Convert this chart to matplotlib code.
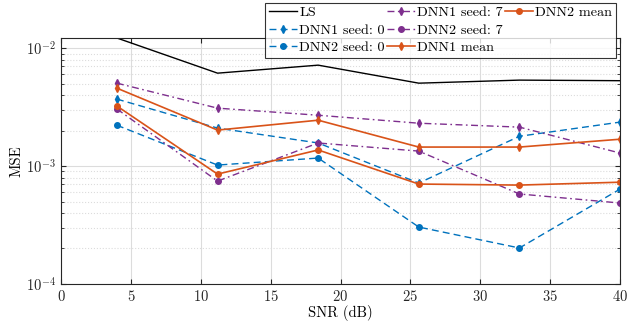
import numpy as np
import matplotlib.pyplot as plt
from matplotlib.lines import Line2D

plt.rcParams['font.family'] = ['cmr10', 'DejaVu Serif']
plt.rcParams['mathtext.fontset'] = 'cm'
plt.rcParams['axes.formatter.use_mathtext'] = True

snr = [4, 11.2, 18.4, 25.6, 32.8, 40]
ls_mse = [0.0122, 0.00614, 0.00718, 0.00505, 0.00536, 0.0053]
dnn1_s0 = [0.0037, 0.0021, 0.00157, 0.000718, 0.00179, 0.00236]
dnn2_s0 = [0.00222, 0.00102, 0.00117, 0.000304, 0.000202, 0.000638]
dnn1_s7 = [0.00505, 0.0031, 0.0027, 0.00231, 0.00214, 0.00129]
dnn2_s7 = [0.00305, 0.000746, 0.00157, 0.00134, 0.00058, 0.000486]
dnn1_mean = [0.00458, 0.00202, 0.00245, 0.00145, 0.00145, 0.00169]
dnn2_mean = [0.00323, 0.000855, 0.00137, 0.000704, 0.00069, 0.00073]

blue = '#0072BD'
orange = '#D95319'
purple = '#7E2F8E'
dash = (5, 3)
dashdot = (5, 2.5, 1.2, 2.5)

fig = plt.figure(figsize=(6.41, 3.24), dpi=100)
ax = fig.add_axes([0.0952, 0.1235, 0.8721, 0.7592])

ax.plot(snr, ls_mse, color='black', lw=1.0, label='LS')
ax.plot(snr, dnn1_s0, color=blue, ls=(0, dash), marker='d', ms=4, lw=1.0, label='DNN1 seed: 0')
ax.plot(snr, dnn2_s0, color=blue, ls=(0, dash), marker='o', ms=4, lw=1.0, label='DNN2 seed: 0')
ax.plot(snr, dnn1_s7, color=purple, ls=(0, dashdot), marker='d', ms=4, lw=1.0, label='DNN1 seed: 7')
ax.plot(snr, dnn2_s7, color=purple, ls=(0, dashdot), marker='o', ms=4, lw=1.0, label='DNN2 seed: 7')
ax.plot(snr, dnn1_mean, color=orange, ls='-', marker='d', ms=4, lw=1.2, label='DNN1 mean')
ax.plot(snr, dnn2_mean, color=orange, ls='-', marker='o', ms=4, lw=1.2, label='DNN2 mean')

ax.set_yscale('log')
ax.set_xlim(0, 40)
ax.set_ylim(1e-4, 0.0122)
ax.set_xticks(np.arange(0, 41, 5))
ax.grid(True, which='major', color='#dcdcdc', lw=0.8)
ax.grid(True, which='minor', axis='y', color='#dcdcdc', ls=':', lw=0.8)
ax.set_axisbelow(True)
ax.tick_params(which='both', direction='in', top=True, right=True, labelsize=10.5, colors='#262626')
for s in ax.spines.values():
    s.set_color('#262626')

ax.set_xlabel('SNR (dB)', fontsize=10.5, labelpad=1)
ax.set_ylabel('MSE', fontsize=10.5, labelpad=2)

handles, labels = ax.get_legend_handles_labels()
handles.append(Line2D([], [], color='none'))
labels.append('')
leg = fig.legend(handles, labels, loc='upper right', bbox_to_anchor=(616 / 641, 1 - 3 / 324), ncol=3,
                 fontsize=10.2, frameon=True, fancybox=False, edgecolor='black',
                 handlelength=2.0, handletextpad=0.15, columnspacing=0.15,
                 labelspacing=0.32, borderpad=0.25, borderaxespad=0)
leg.get_frame().set_linewidth(0.8)

fig.savefig('out.png', dpi=100)
